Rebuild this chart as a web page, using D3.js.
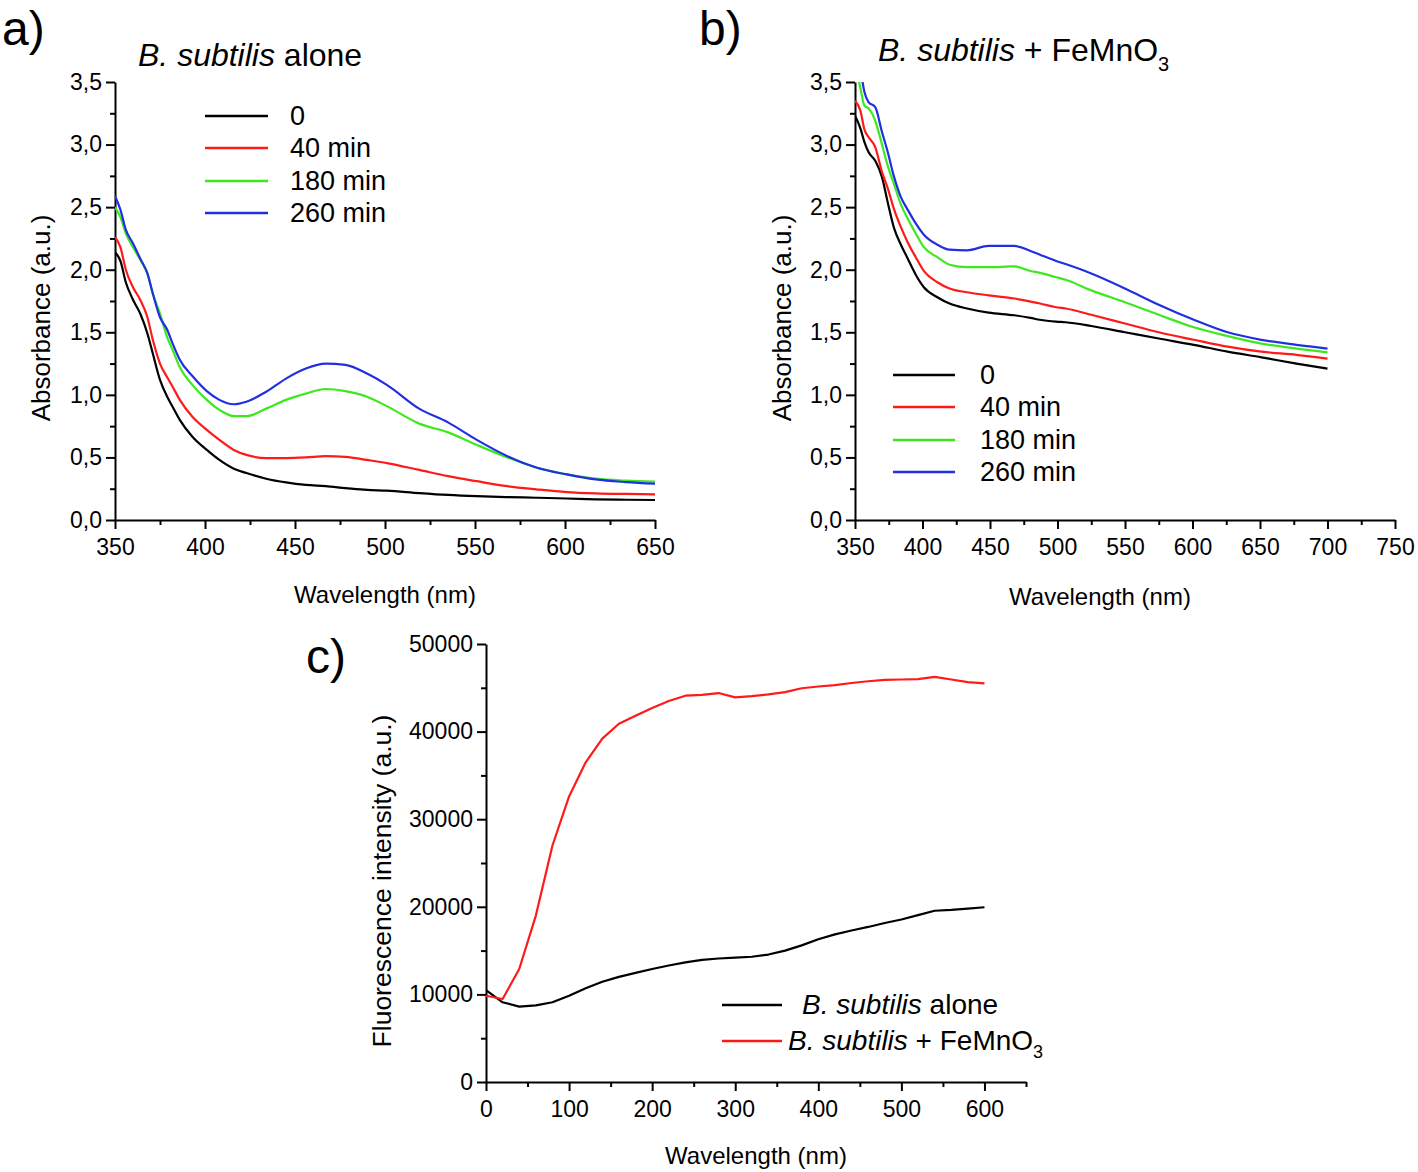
<!DOCTYPE html>
<html>
<head>
<meta charset="utf-8">
<title>B. subtilis absorbance / fluorescence</title>
<script src="https://cdn.jsdelivr.net/npm/d3@7"></script>
<style>
  body { margin:0; background:#fff; }
  svg text { font-family:"Liberation Sans", Arial, sans-serif; fill:#000; }
  .axis path, .axis line { stroke:#000; stroke-width:2; fill:none; }
  .axis text { font-size:23px; }
  .curve { fill:none; stroke-width:2.2; stroke-linejoin:round; }
</style>
</head>
<body>
<script>
// ---- panel a : B. subtilis alone (absorbance)
var wlA   = [350,353,356,360,364,368,371,375,379,382,386,393,401,408,416,423,434,445,456,467,478,490,501,519,535,551,568,584,601,617,634,650];
var a_0   = [2.14,2.07,1.90,1.76,1.65,1.49,1.33,1.12,0.985,0.905,0.80,0.665,0.56,0.48,0.41,0.375,0.33,0.30,0.28,0.27,0.255,0.24,0.235,0.215,0.20,0.19,0.183,0.178,0.172,0.165,0.162,0.16];
var a_40  = [2.26,2.18,2.00,1.86,1.76,1.62,1.44,1.25,1.14,1.065,0.96,0.825,0.72,0.64,0.56,0.52,0.495,0.495,0.50,0.51,0.505,0.48,0.455,0.40,0.35,0.31,0.27,0.245,0.223,0.213,0.208,0.205];
var a_180 = [2.50,2.42,2.29,2.18,2.08,1.97,1.81,1.65,1.46,1.36,1.22,1.08,0.96,0.88,0.83,0.83,0.89,0.96,1.01,1.047,1.03,0.985,0.91,0.77,0.70,0.60,0.50,0.42,0.364,0.33,0.314,0.306];
var a_260 = [2.59,2.48,2.32,2.21,2.09,1.97,1.81,1.62,1.52,1.41,1.28,1.15,1.03,0.96,0.925,0.945,1.025,1.13,1.21,1.25,1.24,1.17,1.08,0.89,0.78,0.64,0.51,0.42,0.364,0.324,0.303,0.29];

// ---- panel b : B. subtilis + FeMnO3 (absorbance)
var wlB   = [350,354,357,360,365,370,374,379,384,389,395,401,411,420,433,449,468,480,487,499,506,525,550,575,601,626,651,677,700];
var b_0   = [3.23,3.13,3.02,2.94,2.87,2.74,2.55,2.33,2.20,2.09,1.96,1.86,1.78,1.73,1.69,1.657,1.636,1.615,1.60,1.585,1.58,1.55,1.50,1.45,1.40,1.345,1.30,1.25,1.21];
var b_40  = [3.35,3.27,3.12,3.06,2.98,2.78,2.66,2.48,2.34,2.22,2.10,1.99,1.90,1.85,1.82,1.795,1.77,1.745,1.73,1.70,1.69,1.64,1.57,1.50,1.44,1.385,1.345,1.32,1.29];
var b_180 = [3.65,3.45,3.31,3.29,3.19,3.00,2.84,2.68,2.52,2.41,2.29,2.18,2.10,2.04,2.02,2.02,2.026,1.99,1.975,1.94,1.92,1.835,1.74,1.64,1.54,1.47,1.41,1.37,1.34];
var b_260 = [3.80,3.60,3.42,3.34,3.30,3.10,2.95,2.74,2.58,2.48,2.37,2.28,2.20,2.16,2.155,2.19,2.19,2.15,2.12,2.07,2.045,1.97,1.85,1.72,1.60,1.50,1.44,1.40,1.37];

// ---- panel c : fluorescence
var wlC    = [0,20,40,60,80,100,120,140,160,180,200,220,240,260,280,300,320,340,360,380,400,420,440,460,480,500,520,540,560,580,600];
var cAlone = [10500,9100,8600,8750,9100,9850,10700,11450,12000,12450,12900,13300,13650,13950,14100,14200,14300,14550,15000,15600,16300,16850,17300,17700,18150,18550,19050,19550,19650,19800,19950];
var cFeMn  = [9850,9470,12900,19000,27000,32600,36500,39200,40900,41800,42700,43500,44100,44200,44400,43900,44050,44250,44500,44950,45150,45300,45550,45750,45900,45950,46000,46250,45950,45650,45500];

var timeLabels = ["0", "40 min", "180 min", "260 min"];
var timeColors = ["#000000", "#ff1a1a", "#3de81e", "#2030e0"];

var xTicksA = d3.range(350, 651, 50);
var xTicksB = d3.range(350, 751, 50);
var xTicksC = d3.range(0, 601, 100);
var yTicksAbs = d3.range(0, 3.51, 0.5);
var yTicksFl = d3.range(0, 50001, 10000);

var svg = d3.select("body").append("svg")
  .attr("width", 1418).attr("height", 1172);

var comma = function(d){ return d3.format(".1f")(d).replace(".", ","); };

function panel(box, xDom, yDom, xTicks, xMinor, yTicks, yMinor, yFmt, id) {
  var x = d3.scaleLinear().domain(xDom).range([box.left, box.right]);
  var y = d3.scaleLinear().domain(yDom).range([box.bottom, box.top]);

  // minor ticks
  svg.append("g").attr("class", "axis")
    .attr("transform", "translate(0," + box.bottom + ")")
    .call(d3.axisBottom(x).tickValues(xMinor).tickSize(5).tickSizeOuter(0).tickFormat(""))
    .select(".domain").remove();
  svg.append("g").attr("class", "axis")
    .attr("transform", "translate(" + box.left + ",0)")
    .call(d3.axisLeft(y).tickValues(yMinor).tickSize(5).tickSizeOuter(0).tickFormat(""))
    .select(".domain").remove();

  // major ticks
  svg.append("g").attr("class", "axis")
    .attr("transform", "translate(0," + box.bottom + ")")
    .call(d3.axisBottom(x).tickValues(xTicks).tickSize(9).tickSizeOuter(0).tickPadding(10).tickFormat(d3.format("d")));
  svg.append("g").attr("class", "axis")
    .attr("transform", "translate(" + box.left + ",0)")
    .call(d3.axisLeft(y).tickValues(yTicks).tickSize(9).tickSizeOuter(0).tickPadding(4).tickFormat(yFmt));

  svg.append("clipPath").attr("id", id)
    .append("rect")
    .attr("x", box.left).attr("y", box.top)
    .attr("width", box.right - box.left).attr("height", box.bottom - box.top);

  return {x: x, y: y};
}

function curve(p, xs, ys, color, id, c) {
  var line = d3.line()
    .x(function(d, i){ return p.x(xs[i]); })
    .y(function(d){ return p.y(d); })
    .curve(c || d3.curveMonotoneX);
  svg.append("path").attr("class", "curve")
    .attr("clip-path", "url(#" + id + ")")
    .attr("stroke", color)
    .attr("d", line(ys));
}

function legendRow(x1, x2, y, color, tx, size, parts) {
  svg.append("line").attr("x1", x1).attr("x2", x2).attr("y1", y).attr("y2", y)
    .attr("stroke", color).attr("stroke-width", 2.5);
  var t = svg.append("text").attr("x", tx).attr("y", y + 9).attr("font-size", size);
  parts.forEach(function(p){
    var s = t.append("tspan").text(p.t);
    if (p.i) s.attr("font-style", "italic");
    if (p.sub) s.attr("font-size", 18).attr("dy", 8);
  });
}

// ---------- panel a
var pA = panel({left:115, right:655, top:82, bottom:520}, [350, 650], [0, 3.5],
  xTicksA, d3.range(375, 650, 50), yTicksAbs, d3.range(0.25, 3.5, 0.5), comma, "clipA");
[a_0, a_40, a_180, a_260].forEach(function(s, k){ curve(pA, wlA, s, timeColors[k], "clipA"); });

// ---------- panel b
var pB = panel({left:855, right:1395, top:82, bottom:520}, [350, 750], [0, 3.5],
  xTicksB, d3.range(375, 750, 50), yTicksAbs, d3.range(0.25, 3.5, 0.5), comma, "clipB");
[b_0, b_40, b_180, b_260].forEach(function(s, k){ curve(pB, wlB, s, timeColors[k], "clipB"); });

// ---------- panel c
var pC = panel({left:486, right:1026, top:644, bottom:1082}, [0, 650], [0, 50000],
  xTicksC, d3.range(50, 651, 100), yTicksFl, d3.range(5000, 50000, 10000), d3.format("d"), "clipC");
curve(pC, wlC, cAlone, "#000000", "clipC", d3.curveLinear);
curve(pC, wlC, cFeMn, "#ff1a1a", "clipC", d3.curveLinear);

// ---------- legends
timeLabels.forEach(function(l, k){
  legendRow(205, 268, [116, 148, 181, 213][k], timeColors[k], 290, 27, [{t:l}]);
  legendRow(893, 955, [375, 407, 440, 472][k], timeColors[k], 980, 27, [{t:l}]);
});
legendRow(722, 782, 1005, "#000000", 802, 28, [{t:"B. subtilis", i:true}, {t:" alone"}]);
legendRow(722, 782, 1041, "#ff1a1a", 788, 28, [{t:"B. subtilis", i:true}, {t:" + FeMnO"}, {t:"3", sub:true}]);

// ---------- titles, panel letters, axis titles
function txt(x, y, s, size, anchor, rot) {
  var t = svg.append("text").attr("font-size", size).attr("text-anchor", anchor || "start");
  if (rot) t.attr("transform", "translate(" + x + "," + y + ") rotate(-90)");
  else t.attr("x", x).attr("y", y);
  return t.text(s);
}
txt(2, 45, "a)", 48);
txt(699, 45, "b)", 48);
txt(306, 673, "c)", 48);

var tA = svg.append("text").attr("x", 138).attr("y", 66).attr("font-size", 32);
tA.append("tspan").attr("font-style", "italic").text("B. subtilis");
tA.append("tspan").text(" alone");
var tB = svg.append("text").attr("x", 878).attr("y", 61).attr("font-size", 32);
tB.append("tspan").attr("font-style", "italic").text("B. subtilis");
tB.append("tspan").text(" + FeMnO");
tB.append("tspan").attr("font-size", 20).attr("dy", 10).text("3");

txt(385, 603, "Wavelength (nm)", 24, "middle");
txt(1100, 605, "Wavelength (nm)", 24, "middle");
txt(756, 1164, "Wavelength (nm)", 24, "middle");
txt(50, 318, "Absorbance (a.u.)", 26, "middle", true);
txt(791, 318, "Absorbance (a.u.)", 26, "middle", true);
txt(391, 881, "Fluorescence intensity (a.u.)", 26.5, "middle", true);
</script>
</body>
</html>
